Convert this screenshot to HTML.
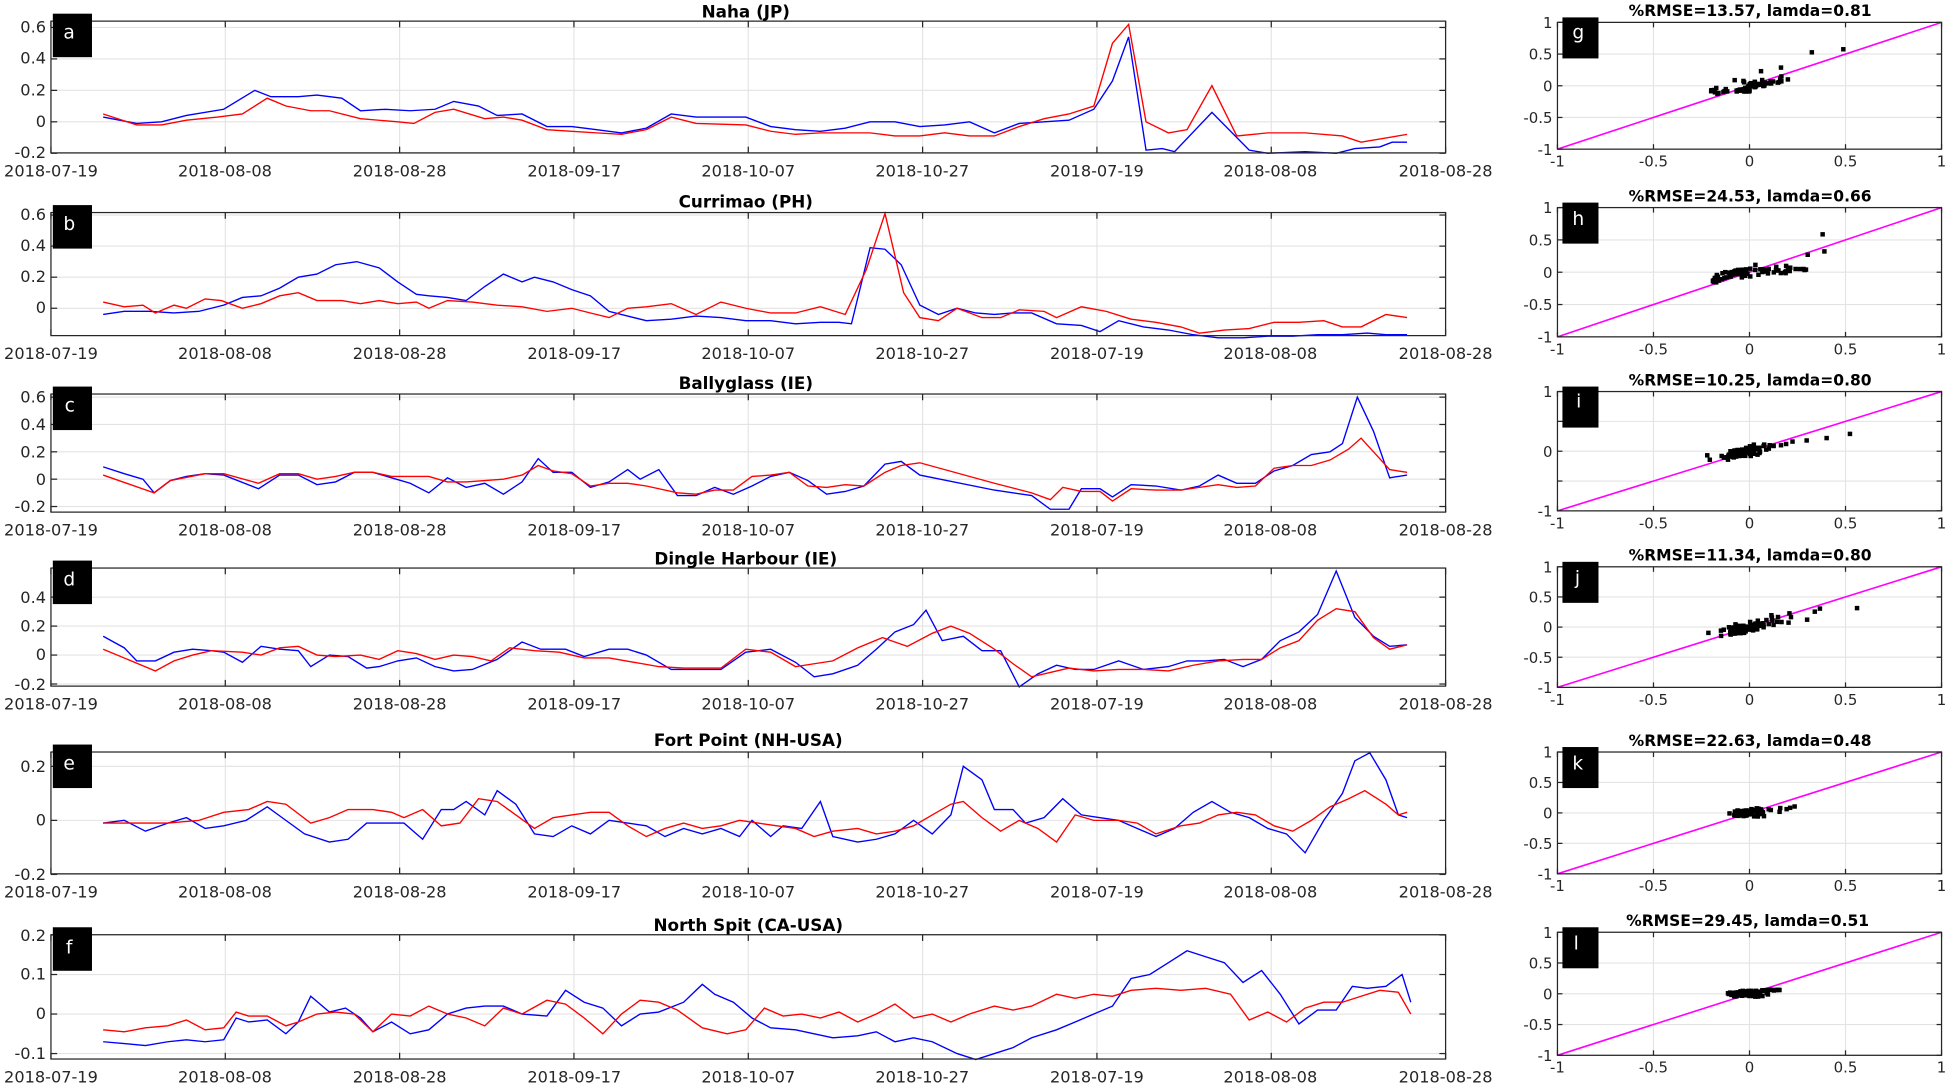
<!DOCTYPE html>
<html><head><meta charset="utf-8"><style>
html,body{margin:0;padding:0;background:#fff;}
svg{display:block;}
.tl{font-family:"DejaVu Sans","Liberation Sans",sans-serif;font-size:13px;fill:#262626;}
.st{font-family:"DejaVu Sans","Liberation Sans",sans-serif;font-size:12px;fill:#262626;}
.tt{font-family:"DejaVu Sans","Liberation Sans",sans-serif;font-size:13.5px;font-weight:bold;fill:#000;}
.tt2{font-family:"DejaVu Sans","Liberation Sans",sans-serif;font-size:12.5px;font-weight:bold;fill:#000;}
.bx{font-family:"DejaVu Sans","Liberation Sans",sans-serif;font-size:15px;fill:#fff;}
</style></head><body>
<svg id="s" width="1949" height="1086" viewBox="0 0 1568 873.7" preserveAspectRatio="none" xmlns="http://www.w3.org/2000/svg">
<g id="grid"></g>
<g id="data"></g>
<g id="frames"></g>
<text class="tt" x="600" y="14" text-anchor="middle">Naha (JP)</text>
<text class="tt" x="600" y="167" text-anchor="middle">Currimao (PH)</text>
<text class="tt" x="600" y="313" text-anchor="middle">Ballyglass (IE)</text>
<text class="tt" x="600" y="454" text-anchor="middle">Dingle Harbour (IE)</text>
<text class="tt" x="602" y="600" text-anchor="middle">Fort Point (NH-USA)</text>
<text class="tt" x="602" y="749" text-anchor="middle">North Spit (CA-USA)</text>
<text class="tt2" x="1408" y="13" text-anchor="middle">%RMSE=13.57, lamda=0.81</text>
<text class="tt2" x="1408" y="162" text-anchor="middle">%RMSE=24.53, lamda=0.66</text>
<text class="tt2" x="1408" y="310" text-anchor="middle">%RMSE=10.25, lamda=0.80</text>
<text class="tt2" x="1408" y="451" text-anchor="middle">%RMSE=11.34, lamda=0.80</text>
<text class="tt2" x="1408" y="600" text-anchor="middle">%RMSE=22.63, lamda=0.48</text>
<text class="tt2" x="1406" y="745" text-anchor="middle">%RMSE=29.45, lamda=0.51</text>

<g class="tl" text-anchor="middle">
<g transform="translate(0,142)"><text x="41">2018-07-19</text><text x="181">2018-08-08</text><text x="321.5">2018-08-28</text><text x="462">2018-09-17</text><text x="602">2018-10-07</text><text x="742">2018-10-27</text><text x="882.5">2018-07-19</text><text x="1022">2018-08-08</text><text x="1163">2018-08-28</text></g>
<g transform="translate(0,289)"><text x="41">2018-07-19</text><text x="181">2018-08-08</text><text x="321.5">2018-08-28</text><text x="462">2018-09-17</text><text x="602">2018-10-07</text><text x="742">2018-10-27</text><text x="882.5">2018-07-19</text><text x="1022">2018-08-08</text><text x="1163">2018-08-28</text></g>
<g transform="translate(0,431)"><text x="41">2018-07-19</text><text x="181">2018-08-08</text><text x="321.5">2018-08-28</text><text x="462">2018-09-17</text><text x="602">2018-10-07</text><text x="742">2018-10-27</text><text x="882.5">2018-07-19</text><text x="1022">2018-08-08</text><text x="1163">2018-08-28</text></g>
<g transform="translate(0,571)"><text x="41">2018-07-19</text><text x="181">2018-08-08</text><text x="321.5">2018-08-28</text><text x="462">2018-09-17</text><text x="602">2018-10-07</text><text x="742">2018-10-27</text><text x="882.5">2018-07-19</text><text x="1022">2018-08-08</text><text x="1163">2018-08-28</text></g>
<g transform="translate(0,722)"><text x="41">2018-07-19</text><text x="181">2018-08-08</text><text x="321.5">2018-08-28</text><text x="462">2018-09-17</text><text x="602">2018-10-07</text><text x="742">2018-10-27</text><text x="882.5">2018-07-19</text><text x="1022">2018-08-08</text><text x="1163">2018-08-28</text></g>
<g transform="translate(0,871)"><text x="41">2018-07-19</text><text x="181">2018-08-08</text><text x="321.5">2018-08-28</text><text x="462">2018-09-17</text><text x="602">2018-10-07</text><text x="742">2018-10-27</text><text x="882.5">2018-07-19</text><text x="1022">2018-08-08</text><text x="1163">2018-08-28</text></g>
</g>
<g class="tl" text-anchor="end">
<text x="37" y="26">0.6</text><text x="37" y="51">0.4</text><text x="37" y="77">0.2</text><text x="37" y="102">0</text><text x="37" y="127">-0.2</text>
<text x="37" y="177">0.6</text><text x="37" y="202">0.4</text><text x="37" y="227">0.2</text><text x="37" y="252">0</text>
<text x="37" y="324">0.6</text><text x="37" y="346">0.4</text><text x="37" y="368">0.2</text><text x="37" y="390">0</text><text x="37" y="412">-0.2</text>
<text x="37" y="485">0.4</text><text x="37" y="508">0.2</text><text x="37" y="531">0</text><text x="37" y="555">-0.2</text>
<text x="37" y="621">0.2</text><text x="37" y="664">0</text><text x="37" y="708">-0.2</text>
<text x="37" y="757">0.2</text><text x="37" y="788">0.1</text><text x="37" y="820">0</text><text x="37" y="852">-0.1</text>
</g>
<g class="st" id="sl"></g>
<g id="boxes"></g>
<g class="bx">
<text x="51" y="31">a</text><text x="51" y="185">b</text><text x="52" y="331">c</text><text x="51" y="471">d</text><text x="51" y="619">e</text><text x="53" y="767">f</text>
<text x="1265" y="31">g</text><text x="1265" y="181">h</text><text x="1268" y="328">i</text><text x="1267" y="470">j</text><text x="1265" y="619">k</text><text x="1266" y="764">l</text>
</g>
</svg>
<script>
var NS="http://www.w3.org/2000/svg";
function el(p,t,a){var e=document.createElementNS(NS,t);for(var k in a)e.setAttribute(k,a[k]);p.appendChild(e);return e;}
var G=document.getElementById('grid'),D=document.getElementById('data'),F=document.getElementById('frames'),B=document.getElementById('boxes'),SL=document.getElementById('sl');
var X0=41,X1=1163;
var P=[
{t:17,b:123,z:98,u:126.5,ticks:[-0.2,0,0.2,0.4,0.6],
 bl:[83,.03,110,-.01,130,0,150,.04,180,.08,205,.2,218,.16,240,.16,255,.17,275,.15,290,.07,310,.08,330,.07,350,.08,365,.13,385,.1,400,.04,420,.05,440,-.03,460,-.03,480,-.05,500,-.07,520,-.04,540,.05,560,.03,600,.03,620,-.03,640,-.05,660,-.06,680,-.04,700,0,720,0,740,-.03,760,-.02,780,0,800,-.07,820,-.01,840,0,860,.01,880,.08,895,.26,908,.54,922,-.18,935,-.17,945,-.19,975,.06,1005,-.18,1020,-.2,1050,-.19,1075,-.2,1090,-.17,1110,-.16,1120,-.13,1132,-.13],
 rd:[83,.05,110,-.02,130,-.02,150,.01,175,.03,195,.05,215,.15,230,.1,250,.07,265,.07,290,.02,320,0,333,-.01,350,.06,365,.08,390,.02,405,.03,420,.01,440,-.05,460,-.06,480,-.07,500,-.08,520,-.05,540,.03,560,-.01,600,-.02,620,-.06,640,-.08,660,-.07,700,-.07,720,-.09,740,-.09,760,-.07,780,-.09,800,-.09,820,-.03,840,.02,860,.05,880,.1,895,.5,908,.62,922,0,940,-.07,955,-.05,975,.23,995,-.09,1020,-.07,1050,-.07,1080,-.09,1095,-.13,1132,-.08]},
{t:171,b:270,z:248,u:125,ticks:[0,0.2,0.4,0.6],
 bl:[83,-.04,100,-.02,120,-.02,140,-.03,160,-.02,180,.02,195,.07,210,.08,225,.13,240,.2,255,.22,270,.28,287,.3,305,.26,320,.17,335,.09,345,.08,360,.07,375,.05,390,.14,405,.22,420,.17,430,.2,445,.17,460,.12,475,.08,490,-.02,505,-.05,520,-.08,540,-.07,560,-.05,580,-.06,600,-.08,620,-.08,640,-.1,660,-.09,675,-.09,685,-.1,700,.39,712,.38,725,.28,740,.02,755,-.04,770,0,785,-.03,800,-.04,815,-.03,830,-.03,850,-.1,870,-.11,885,-.15,900,-.08,920,-.12,940,-.14,960,-.17,980,-.19,1000,-.19,1020,-.18,1040,-.18,1060,-.17,1080,-.17,1100,-.16,1115,-.17,1132,-.17],
 rd:[83,.04,100,.01,115,.02,125,-.03,140,.02,150,0,165,.06,178,.05,195,0,210,.03,225,.08,240,.1,255,.05,275,.05,290,.03,305,.05,320,.03,335,.04,345,0,360,.05,380,.04,400,.02,420,.01,440,-.02,460,0,475,-.03,490,-.06,505,0,520,.01,540,.03,560,-.04,580,.04,600,0,620,-.03,640,-.03,660,.01,680,-.04,697,.25,712,.61,727,.1,740,-.06,755,-.08,770,0,790,-.06,805,-.06,820,-.01,840,-.02,850,-.06,870,.01,890,-.02,910,-.07,930,-.09,950,-.12,965,-.16,985,-.14,1005,-.13,1025,-.09,1045,-.09,1065,-.08,1080,-.12,1095,-.12,1115,-.04,1132,-.06]},
{t:317,b:412,z:385.5,u:110,ticks:[-0.2,0,0.2,0.4,0.6],
 bl:[83,.09,100,.04,115,0,124,-.1,137,-.01,150,.02,165,.04,180,.03,208,-.07,225,.03,240,.03,255,-.04,270,-.02,285,.05,300,.05,315,.01,330,-.03,345,-.1,360,.01,375,-.06,390,-.03,405,-.11,420,-.02,433,.15,445,.05,460,.05,475,-.06,490,-.02,505,.07,515,0,530,.07,545,-.12,560,-.12,575,-.06,590,-.11,605,-.05,620,.02,635,.05,650,-.01,665,-.11,680,-.09,695,-.05,712,.11,725,.13,740,.03,800,-.08,830,-.12,845,-.22,860,-.22,870,-.07,885,-.07,895,-.13,910,-.04,930,-.05,950,-.08,965,-.05,980,.03,995,-.03,1010,-.03,1025,.06,1040,.1,1055,.18,1070,.2,1080,.26,1092,.6,1105,.35,1118,.01,1132,.03],
 rd:[83,.03,124,-.1,137,-.01,165,.04,180,.04,208,-.03,225,.04,240,.04,255,0,270,.02,285,.05,300,.05,315,.02,345,.02,360,-.02,375,-.02,390,-.01,405,0,420,.03,433,.1,445,.06,460,.04,475,-.05,490,-.03,505,-.03,520,-.05,545,-.1,560,-.11,575,-.08,590,-.08,605,.02,620,.03,635,.05,650,-.05,665,-.06,680,-.04,695,-.05,712,.05,725,.1,740,.12,800,-.03,830,-.1,845,-.15,855,-.06,870,-.09,885,-.09,895,-.16,910,-.07,930,-.08,950,-.08,965,-.06,980,-.04,995,-.06,1010,-.05,1025,.08,1040,.1,1055,.1,1070,.14,1085,.22,1095,.3,1105,.2,1118,.07,1132,.05]},
{t:457,b:552,z:527,u:116.5,ticks:[-0.2,0,0.2,0.4],
 bl:[83,.13,100,.05,110,-.04,125,-.04,140,.02,155,.04,170,.03,180,.02,195,-.05,210,.06,225,.04,240,.03,250,-.08,265,0,280,-.01,295,-.09,305,-.08,320,-.04,335,-.02,350,-.08,365,-.11,380,-.1,400,-.03,420,.09,435,.04,455,.04,470,-.01,490,.04,505,.04,520,0,540,-.1,560,-.1,580,-.1,600,.02,620,.04,640,-.05,655,-.15,670,-.13,690,-.07,705,.04,720,.16,735,.21,745,.31,758,.1,775,.13,790,.03,805,.03,820,-.22,835,-.13,850,-.07,865,-.1,880,-.1,900,-.04,920,-.1,940,-.08,955,-.04,970,-.04,985,-.03,1000,-.08,1015,-.03,1030,.1,1045,.16,1060,.28,1075,.58,1090,.26,1105,.13,1118,.06,1132,.07],
 rd:[83,.04,125,-.11,140,-.04,155,0,170,.03,195,.02,210,0,225,.05,240,.06,255,0,270,-.01,290,0,305,-.03,320,.03,335,.01,350,-.03,365,0,380,-.01,395,-.04,410,.05,430,.03,450,.02,470,-.02,490,-.02,510,-.05,530,-.08,550,-.09,580,-.09,600,.04,620,.02,640,-.08,655,-.06,670,-.04,690,.05,710,.12,730,.06,750,.15,765,.2,780,.15,800,.04,815,-.06,830,-.15,845,-.12,860,-.09,880,-.11,900,-.1,920,-.1,940,-.11,960,-.07,980,-.04,1000,-.03,1015,-.03,1030,.05,1045,.1,1060,.24,1075,.32,1090,.3,1105,.12,1118,.04,1132,.07]},
{t:605,b:703,z:660,u:217.5,ticks:[-0.2,0,0.2],
 bl:[83,-.01,100,0,117,-.04,135,-.01,150,.01,165,-.03,180,-.02,198,0,215,.05,230,0,245,-.05,265,-.08,280,-.07,295,-.01,310,-.01,325,-.01,340,-.07,355,.04,365,.04,375,.07,390,.02,400,.11,415,.06,430,-.05,445,-.06,460,-.02,475,-.05,490,0,505,-.01,520,-.02,535,-.06,550,-.03,565,-.05,580,-.03,595,-.06,605,0,620,-.06,630,-.02,645,-.03,660,.07,670,-.06,690,-.08,705,-.07,720,-.05,735,0,750,-.05,765,.02,775,.2,790,.15,800,.04,815,.04,825,-.01,840,.01,855,.08,870,.02,885,.01,900,0,915,-.03,930,-.06,945,-.03,960,.03,975,.07,990,.03,1005,.01,1020,-.03,1035,-.05,1050,-.12,1065,0,1080,.1,1090,.22,1102,.25,1115,.15,1125,.02,1132,.01],
 rd:[83,-.01,100,-.01,135,-.01,160,0,180,.03,200,.04,215,.07,230,.06,250,-.01,265,.01,280,.04,300,.04,315,.03,325,.01,340,.04,355,-.02,370,-.01,385,.08,400,.07,415,.02,430,-.03,445,.01,460,.02,475,.03,490,.03,505,-.02,520,-.06,535,-.03,550,-.01,565,-.03,580,-.02,595,0,610,-.01,625,-.02,640,-.03,655,-.06,670,-.04,690,-.03,705,-.05,720,-.04,735,-.02,750,.02,765,.06,775,.07,790,.01,805,-.04,820,0,835,-.03,850,-.08,865,.02,880,0,900,0,915,-.01,930,-.05,950,-.02,965,-.01,980,.02,995,.03,1010,.02,1025,-.02,1040,-.04,1055,0,1070,.05,1085,.08,1098,.11,1115,.06,1125,.02,1132,.03]},
{t:752,b:852,z:815.8,u:318,ticks:[-0.1,0,0.1,0.2],
 bl:[83,-.07,100,-.075,117,-.08,135,-.07,150,-.065,165,-.07,180,-.065,190,-.01,200,-.02,215,-.015,230,-.05,240,-.02,250,.045,265,.005,278,.015,290,-.01,300,-.045,315,-.02,330,-.05,345,-.04,360,0,375,.015,390,.02,405,.02,420,0,440,-.005,455,.06,470,.03,485,.015,500,-.03,515,0,530,.005,550,.03,565,.075,575,.05,590,.03,605,-.01,620,-.035,640,-.04,655,-.05,670,-.06,690,-.055,705,-.045,720,-.07,735,-.06,750,-.07,770,-.1,785,-.115,800,-.1,815,-.085,830,-.06,850,-.04,865,-.02,880,0,895,.02,910,.09,925,.1,940,.13,955,.16,970,.145,985,.13,1000,.08,1015,.11,1030,.05,1045,-.025,1060,.01,1075,.01,1088,.07,1100,.065,1115,.07,1128,.1,1135,.03],
 rd:[83,-.04,100,-.045,117,-.035,135,-.03,150,-.015,165,-.04,180,-.035,190,.005,200,-.005,215,-.005,230,-.03,240,-.02,255,0,270,.005,285,0,300,-.045,315,0,330,-.005,345,.02,360,0,375,-.01,390,-.03,405,.015,420,0,440,.035,455,.025,470,-.01,485,-.05,500,0,515,.035,530,.03,545,.01,565,-.035,585,-.05,600,-.04,615,.015,630,-.005,645,0,660,-.01,675,.005,690,-.02,705,0,720,.025,735,-.01,750,0,765,-.02,780,0,800,.02,815,.01,830,.02,850,.05,865,.04,880,.05,895,.045,910,.06,930,.065,950,.06,970,.065,990,.05,1005,-.015,1020,.005,1035,-.02,1050,.015,1065,.03,1080,.03,1095,.045,1110,.06,1125,.055,1135,0]}
];
var SP=[[18,120,1],[167,271,1],[315,411,0],[456,553,1],[605,703,1],[750,849,1]];
var SX0=1253,SX1=1562;
function interp(a,x){for(var i=0;i<a.length-2;i+=2){if(x<=a[i+2]){var f=(x-a[i])/(a[i+2]-a[i]);return a[i+1]+f*(a[i+3]-a[i+1]);}}return a[a.length-1];}
P.forEach(function(p,pi){
  for(var k=0;k<=8;k++){var x=X0+k*(X1-X0)/8;el(G,'line',{x1:x,x2:x,y1:p.t,y2:p.b,stroke:'#e3e3e3','stroke-width':0.9});
    el(F,'line',{x1:x,x2:x,y1:p.t,y2:p.t+5,stroke:'#262626','stroke-width':1});el(F,'line',{x1:x,x2:x,y1:p.b,y2:p.b-5,stroke:'#262626','stroke-width':1});}
  p.ticks.forEach(function(v){var y=p.z-v*p.u;el(G,'line',{x1:X0,x2:X1,y1:y,y2:y,stroke:'#e3e3e3','stroke-width':0.9});
    el(F,'line',{x1:X0,x2:X0+5,y1:y,y2:y,stroke:'#262626','stroke-width':1});el(F,'line',{x1:X1,x2:X1-5,y1:y,y2:y,stroke:'#262626','stroke-width':1});});
  function pl(a,c){var s='';for(var i=0;i<a.length;i+=2)s+=a[i]+','+(p.z-a[i+1]*p.u).toFixed(1)+' ';el(D,'polyline',{points:s,fill:'none',stroke:c,'stroke-width':1.1});}
  pl(p.bl,'#0000ff');pl(p.rd,'#ff0000');
  el(F,'rect',{x:X0,y:p.t,width:X1-X0,height:p.b-p.t,fill:'none',stroke:'#262626','stroke-width':1});
  el(B,'rect',{x:42.5,y:p.t-6,width:31.5,height:35,fill:'#000'});
  var s=SP[pi],t=s[0],b=s[1];
  function sx(v){return SX0+(v+1)/2*(SX1-SX0);} function sy(v){return b-(v+1)/2*(b-t);}
  [-1,-0.5,0,0.5,1].forEach(function(v){
    el(G,'line',{x1:sx(v),x2:sx(v),y1:t,y2:b,stroke:'#e3e3e3','stroke-width':0.9});
    el(G,'line',{x1:SX0,x2:SX1,y1:sy(v),y2:sy(v),stroke:'#e3e3e3','stroke-width':0.9});
    el(F,'line',{x1:sx(v),x2:sx(v),y1:b,y2:b-4,stroke:'#262626'});el(F,'line',{x1:sx(v),x2:sx(v),y1:t,y2:t+4,stroke:'#262626'});
    el(F,'line',{x1:SX0,x2:SX0+4,y1:sy(v),y2:sy(v),stroke:'#262626'});el(F,'line',{x1:SX1,x2:SX1-4,y1:sy(v),y2:sy(v),stroke:'#262626'});
    var lab=(v==0.5?'0.5':v==-0.5?'-0.5':String(v));
    var tx=el(SL,'text',{x:sx(v),y:b+14,'text-anchor':'middle'});tx.textContent=lab;
    if(s[2]||v==0||Math.abs(v)==1){var ty=el(SL,'text',{x:1249,y:sy(v)+4.5,'text-anchor':'end'});ty.textContent=lab;}
  });
  el(D,'line',{x1:sx(-1),y1:sy(-1),x2:sx(1),y2:sy(1),stroke:'#ff00ff','stroke-width':1.3});
  for(var x=84;x<=1132;x+=11){var bv=interp(p.bl,x),rv=interp(p.rd,x);
    el(D,'rect',{x:sx(bv)-1.8,y:sy(rv)-1.8,width:3.6,height:3.6,fill:'#000'});}
  el(F,'rect',{x:SX0,y:t,width:SX1-SX0,height:b-t,fill:'none',stroke:'#262626','stroke-width':1});
  el(B,'rect',{x:1257,y:t-4,width:29,height:33,fill:'#000'});
});
</script>
</body></html>
